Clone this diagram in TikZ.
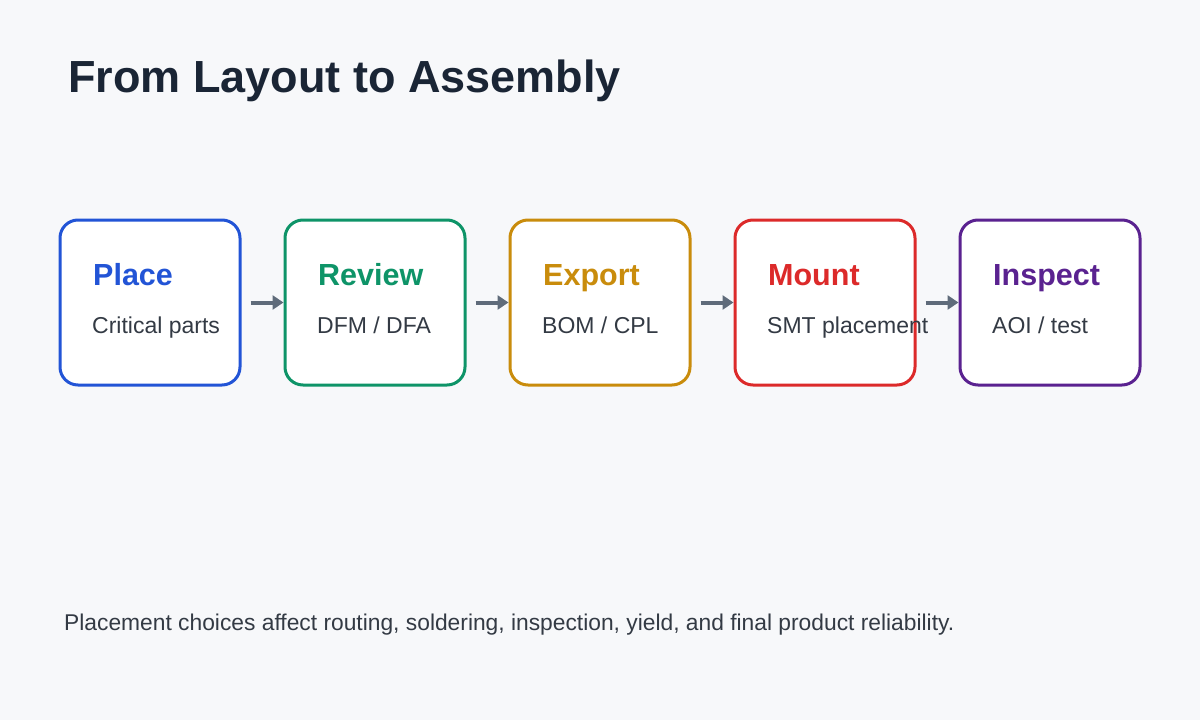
\documentclass[tikz,border=0pt]{standalone}
\usepackage{fontspec}
\setmainfont{Liberation Sans}
\usetikzlibrary{arrows.meta}
\definecolor{bg}{HTML}{F7F8FA}
\definecolor{ttl}{HTML}{1A2535}
\definecolor{txt}{HTML}{333A44}
\definecolor{arr}{HTML}{5F6B7A}
\definecolor{cA}{HTML}{2254D6}
\definecolor{cB}{HTML}{0E9468}
\definecolor{cC}{HTML}{C98C0C}
\definecolor{cD}{HTML}{DC2A2A}
\definecolor{cE}{HTML}{5A2290}
\begin{document}
\begin{tikzpicture}[x=1pt,y=-1pt,
  box/.style={draw=#1,line width=3pt,rounded corners=18pt,fill=white,minimum width=180pt,minimum height=165pt,inner sep=0pt},
  head/.style={anchor=base west,font=\fontsize{30.5}{32}\selectfont\bfseries,text=#1,inner sep=0pt},
  sub/.style={anchor=base west,font=\fontsize{23}{26}\selectfont,text=txt,inner sep=0pt},
  con/.style={draw=arr,line width=4pt,-{Triangle[length=11pt,width=14pt]}}]
\fill[bg] (0,0) rectangle (1200,720);
\useasboundingbox (0,0) rectangle (1200,720);
\node[anchor=base west,inner sep=0pt,text=ttl,font=\fontsize{45}{50}\selectfont\bfseries] (title) at (68,92) {From Layout to Assembly};
\foreach \i/\c/\h/\s in {0/cA/Place/{Critical parts},1/cB/Review/{DFM / DFA},2/cC/Export/{BOM / CPL},3/cD/Mount/{SMT placement},4/cE/Inspect/{AOI / test}}{
  \node[box=\c] (b\i) at (150+225*\i,302.5) {};
  \node[head=\c] (h\i) at (93+225*\i,285) {\h};
  \node[sub] (s\i) at (92+225*\i,333) {\s};
}
\foreach \i/\j in {0/1,1/2,2/3,3/4}{
  \draw[con] (b\i.east)+(9,0) coordinate (a\i) -- (b\j.west);
}
\node[anchor=base west,inner sep=0pt,text=txt,font=\fontsize{22.8}{26}\selectfont] (foot) at (64,630) {Placement choices affect routing, soldering, inspection, yield, and final product reliability.};
\end{tikzpicture}
\end{document}
